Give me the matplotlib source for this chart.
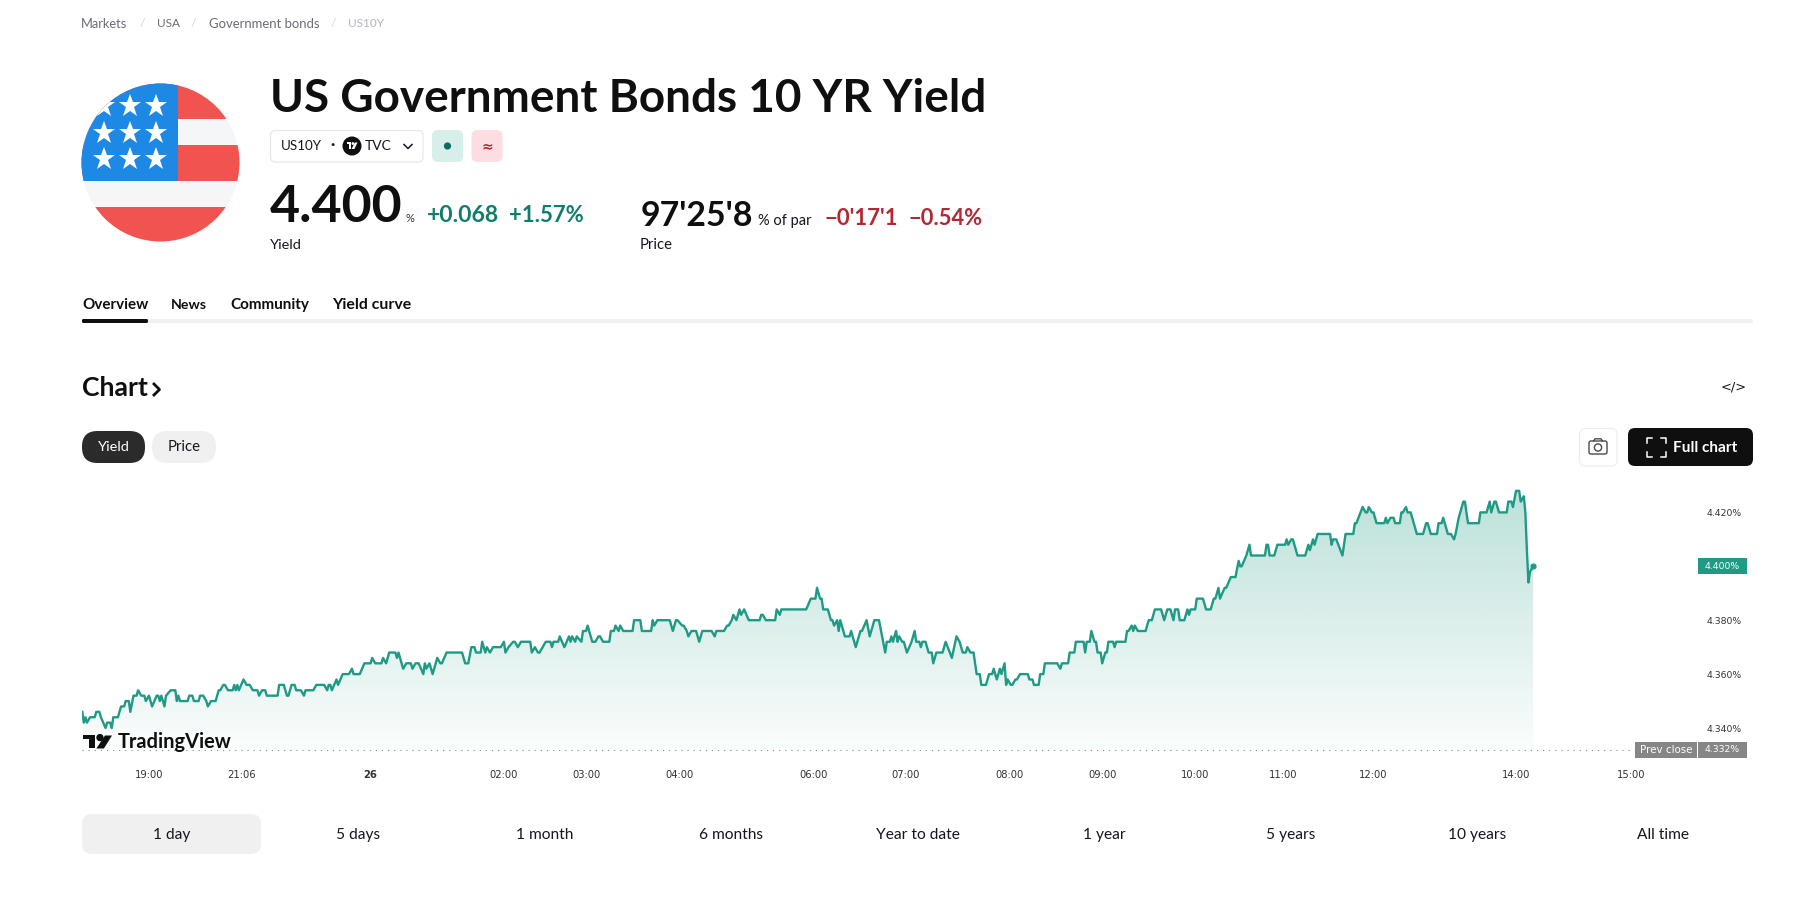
import matplotlib
matplotlib.use("Agg")
import matplotlib.pyplot as plt
import numpy as np
from matplotlib.patches import FancyBboxPatch, Circle, Rectangle, Polygon

# ---------- data ----------
bar_index = [
    0,1,2,3,5,8,9,11,12,15,16,18,
    19,20,23,25,27,28,30,31,33,35,36,38,
    40,41,43,45,48,49,50,51,53,54,57,60,
    61,62,63,68,69,71,72,75,76,78,80,81,
    83,86,88,89,91,92,94,97,98,99,100,101,
    104,106,108,110,113,114,116,118,119,126,127,130,
    132,133,135,137,138,141,143,144,149,151,156,158,
    159,160,161,164,165,168,172,174,175,179,182,186,
    187,189,193,194,196,198,202,203,204,207,209,212,
    213,215,217,220,221,222,224,226,229,231,232,235,
    245,247,249,251,253,254,257,258,260,261,263,265,
    270,272,273,275,278,279,281,283,289,290,292,294,
    295,297,299,302,303,304,307,308,311,314,315,316,
    318,319,322,323,325,326,329,331,333,334,336,340,
    341,343,344,346,347,349,355,356,360,361,367,368,
    369,371,379,381,383,384,387,388,390,391,393,396,
    398,400,406,408,409,414,416,417,419,420,422,424,
    425,427,430,437,438,439,441,447,448,450,451,467,
    470,473,474,476,477,478,481,483,484,485,487,488,
    489,492,495,496,499,502,503,506,508,511,514,518,
    519,521,522,523,525,526,527,529,530,532,535,537,
    538,540,541,542,544,546,548,549,551,555,557,561,
    564,566,568,570,571,573,575,577,579,580,583,585,
    587,588,590,592,593,595,596,597,599,600,602,603,
    605,610,611,613,614,617,618,620,621,629,631,632,
    636,637,640,641,646,647,648,650,651,653,654,655,
    657,658,660,661,662,665,666,667,673,674,675,677,
    678,679,681,686,688,690,692,696,698,700,702,704,
    705,707,708,711,713,714,715,718,719,723,725,728,
    730,731,733,734,737,738,741,744,746,747,748,751,
    753,754,763,764,765,766,769,771,776,777,778,780,
    781,784,789,791,792,794,795,797,805,806,807,809,
    813,815,820,821,822,826,828,829,830,832,833,835,
    840,841,842,844,846,847,850,851,852,854,855,857,
    861,865,867,868,870,874,875,877,878,881,883,885,
    886,888,891,892,894,901,902,906,908,909,911,912,
    914,919,920,922,923,925,927,928,930,931,932,933,
    934,936,
]
yield_pct = [
    4.346,4.342,4.344,4.342,4.344,4.344,4.346,4.346,4.344,4.340,4.342,4.342,
    4.340,4.344,4.344,4.348,4.348,4.350,4.350,4.346,4.352,4.352,4.354,4.352,
    4.352,4.350,4.352,4.348,4.352,4.352,4.350,4.352,4.348,4.352,4.354,4.354,
    4.350,4.352,4.350,4.350,4.352,4.352,4.350,4.350,4.352,4.352,4.350,4.348,
    4.350,4.350,4.354,4.354,4.356,4.356,4.354,4.354,4.356,4.354,4.356,4.354,
    4.358,4.356,4.356,4.354,4.354,4.352,4.354,4.354,4.352,4.352,4.356,4.356,
    4.352,4.352,4.356,4.356,4.354,4.354,4.352,4.354,4.354,4.356,4.356,4.354,
    4.356,4.356,4.354,4.358,4.356,4.360,4.360,4.362,4.360,4.360,4.364,4.364,
    4.366,4.364,4.364,4.366,4.364,4.368,4.368,4.366,4.368,4.362,4.364,4.364,
    4.362,4.364,4.364,4.360,4.364,4.362,4.364,4.360,4.366,4.364,4.364,4.368,
    4.368,4.364,4.364,4.370,4.370,4.368,4.368,4.372,4.368,4.370,4.368,4.370,
    4.370,4.372,4.368,4.370,4.372,4.372,4.370,4.372,4.372,4.368,4.370,4.368,
    4.368,4.370,4.372,4.372,4.370,4.372,4.372,4.374,4.370,4.374,4.372,4.374,
    4.372,4.374,4.372,4.376,4.376,4.378,4.372,4.372,4.374,4.374,4.372,4.372,
    4.376,4.376,4.378,4.376,4.378,4.376,4.376,4.380,4.380,4.376,4.376,4.380,
    4.378,4.380,4.380,4.376,4.380,4.380,4.378,4.378,4.376,4.374,4.376,4.376,
    4.372,4.376,4.376,4.374,4.376,4.376,4.378,4.378,4.380,4.382,4.380,4.384,
    4.382,4.384,4.380,4.380,4.382,4.382,4.380,4.380,4.384,4.382,4.384,4.384,
    4.388,4.388,4.392,4.388,4.388,4.384,4.384,4.380,4.380,4.378,4.380,4.376,
    4.380,4.374,4.374,4.376,4.370,4.376,4.376,4.380,4.374,4.380,4.380,4.368,
    4.372,4.372,4.374,4.372,4.376,4.372,4.374,4.372,4.372,4.368,4.372,4.376,
    4.372,4.372,4.370,4.372,4.372,4.368,4.368,4.364,4.368,4.368,4.372,4.366,
    4.374,4.372,4.368,4.368,4.370,4.368,4.368,4.360,4.360,4.356,4.356,4.360,
    4.360,4.362,4.358,4.362,4.360,4.364,4.356,4.358,4.356,4.356,4.358,4.358,
    4.360,4.360,4.358,4.358,4.356,4.356,4.360,4.360,4.364,4.364,4.362,4.364,
    4.364,4.368,4.368,4.372,4.372,4.368,4.372,4.372,4.376,4.372,4.372,4.368,
    4.368,4.364,4.368,4.368,4.372,4.372,4.370,4.372,4.372,4.376,4.376,4.378,
    4.376,4.378,4.376,4.376,4.380,4.380,4.384,4.384,4.380,4.384,4.384,4.380,
    4.384,4.384,4.380,4.380,4.384,4.382,4.384,4.384,4.388,4.388,4.384,4.384,
    4.388,4.388,4.392,4.388,4.392,4.392,4.396,4.396,4.402,4.400,4.400,4.404,
    4.408,4.404,4.404,4.408,4.408,4.404,4.404,4.408,4.408,4.410,4.408,4.410,
    4.410,4.404,4.404,4.408,4.406,4.410,4.408,4.412,4.412,4.408,4.410,4.410,
    4.404,4.412,4.412,4.416,4.416,4.422,4.420,4.420,4.422,4.420,4.420,4.416,
    4.416,4.418,4.416,4.418,4.418,4.416,4.416,4.420,4.420,4.422,4.420,4.420,
    4.412,4.412,4.416,4.416,4.412,4.412,4.416,4.416,4.418,4.412,4.412,4.410,
    4.412,4.418,4.424,4.424,4.416,4.416,4.420,4.420,4.424,4.420,4.424,4.424,
    4.420,4.420,4.424,4.424,4.422,4.428,4.428,4.424,4.426,4.420,4.406,4.394,
    4.398,4.400,
]
prev_close = 4.332
last_yield = 4.400
x_tick_bars = [43, 103, 186, 272, 325, 385, 472, 531, 598, 658, 718, 775, 833, 925, 999]
x_tick_labels = ["19:00", "21:06", "26", "02:00", "03:00", "04:00", "06:00", "07:00",
                 "08:00", "09:00", "10:00", "11:00", "12:00", "14:00", "15:00"]
y_ticks = [4.34, 4.36, 4.38, 4.42]
range_labels = ["1 day", "5 days", "1 month", "6 months", "Year to date",
                "1 year", "5 years", "10 years", "All time"]
breadcrumbs = ["Markets", "USA", "Government bonds", "US10Y"]
tabs = ["Overview", "News", "Community", "Yield curve"]

# ---------- figure ----------
W, H = 1820, 913
UI = "Lato"
LINE = "#1f9a85"
INK = "#131722"
fig = plt.figure(figsize=(W / 100, H / 100), dpi=100, facecolor="white")

# chart axes
L, R, T_, B = 82.3, 1700, 480, 760
ax = fig.add_axes([L / W, 1 - B / H, (R - L) / W, (B - T_) / H], zorder=1)
ax.patch.set_alpha(0)
xmax = (R - L) / 1.55
poly = ax.fill_between(bar_index, yield_pct, prev_close, color="none", lw=0)
rgba = np.zeros((256, 2, 4))
rgba[..., 0] = 0x1f / 255
rgba[..., 1] = 0x9a / 255
rgba[..., 2] = 0x85 / 255
rgba[..., 3] = np.linspace(0.30, 0.02, 256)[:, None]
im = ax.imshow(rgba, extent=[0, xmax, prev_close, max(yield_pct)], origin="upper",
               aspect="auto", interpolation="bilinear", zorder=1)
im.set_clip_path(poly.get_paths()[0], ax.transData)
ax.plot([0, 1002], [prev_close, prev_close], color="#8a8a8a", lw=0.8,
        dashes=(1, 4.5), zorder=2)
ax.plot(bar_index, yield_pct, color=LINE, lw=1.7, solid_joinstyle="round", zorder=3)
ax.plot(bar_index[-1], last_yield, "o", color=LINE, ms=4.5, mew=0, zorder=4)
ax.set_xlim(0, xmax)
ax.set_ylim(4.32813, 4.43202)
for s in ax.spines.values():
    s.set_visible(False)
ax.set_xticks(x_tick_bars, x_tick_labels)
ax.yaxis.tick_right()
ax.set_yticks(y_ticks, [f"{v:.3f}%" for v in y_ticks])
ax.tick_params(length=0, labelsize=6.7, labelcolor="#333333")
ax.tick_params(axis="x", labelsize=7.2, pad=7.5)
ax.tick_params(axis="y", pad=5)
for lab in ax.get_xticklabels():
    if lab.get_text() == "26":
        lab.set_fontweight("bold")
btrans = ax.get_yaxis_transform()
h_badge = 0.00295
for (x0, x1, val, label, col, fs) in [
    (0.99877, 1.0291, last_yield, f"{last_yield:.3f}%", LINE, 6.7),
    (0.99877, 1.0291, prev_close, f"{prev_close:.3f}%", "#868686", 6.7),
    (0.95980, 0.99810, prev_close, "Prev close", "#868686", 7.4),
]:
    ax.add_patch(Rectangle((x0, val - h_badge), x1 - x0, 2 * h_badge, transform=btrans,
                           fc=col, ec="none", clip_on=False, zorder=5))
    ax.text((x0 + x1) / 2, val, label, transform=btrans, color="white", fontsize=fs,
            va="center", ha="center", clip_on=False, zorder=6)

# page overlay in pixel coordinates
pg = fig.add_axes([0, 0, 1, 1], zorder=2)
pg.set_xlim(0, W)
pg.set_ylim(H, 0)
pg.axis("off")
pg.patch.set_alpha(0)
renderer = fig.canvas.get_renderer()


def txt(x, y, s, px=14, color=INK, weight="normal", ha="left", va="center", w=None, family=UI):
    t = pg.text(x, y, s, fontsize=px * 0.72, color=color, fontweight=weight, ha=ha, va=va, family=family)
    if w is not None:
        cur = t.get_window_extent(renderer).width
        t.set_fontsize(t.get_fontsize() * w / cur)
    return t


def rrect(x0, y0, x1, y1, r, fc, ec="none", lw=0):
    p = FancyBboxPatch((x0, y0), x1 - x0, y1 - y0, boxstyle=f"round,pad=0,rounding_size={r}",
                       fc=fc, ec=ec, lw=lw)
    pg.add_patch(p)
    return p


def tv_logo(x, y, w, h, c):
    U = lambda a, b: (x + a * w, y + b * h)
    pg.add_patch(Polygon([U(0, 0), U(.43, 0), U(.43, 1), U(.2, 1), U(.2, .28), U(0, .28)], fc=c, ec="none"))
    pg.add_patch(Circle(U(.585, .16), .14 * w * 0.9, fc=c, ec="none"))
    pg.add_patch(Polygon([U(.76, 0), U(1, 0), U(.72, 1), U(.46, 1)], fc=c, ec="none"))


# breadcrumbs
for (x, w, s, c) in zip([81, 157, 209, 348], [47, 23, 111, 36], breadcrumbs,
                        ["#6a6d78", "#6a6d78", "#6a6d78", "#b2b5be"]):
    txt(x, 23.5, s, 13, c, w=w)
for x in (142, 193, 333):
    txt(x, 23.5, "/", 12, "#d1d4dc", ha="center")

# flag
clip = Circle((160.5, 162.5), 79, transform=pg.transData)
parts = [Rectangle((80, 80), 165, 39, fc="#f05350", ec="none"),
         Rectangle((80, 119), 165, 26, fc="#f5f6f8", ec="none"),
         Rectangle((80, 145), 165, 36, fc="#f05350", ec="none"),
         Rectangle((80, 181), 165, 26, fc="#f5f6f8", ec="none"),
         Rectangle((80, 207), 165, 38, fc="#f05350", ec="none"),
         Rectangle((80, 80), 97.5, 101, fc="#1e88e5", ec="none")]
for p in parts:
    pg.add_patch(p)
    p.set_clip_path(clip)
for yy in (106, 133, 159):
    for xx in (104, 130, 156):
        m, = pg.plot([xx], [yy], marker="*", ms=17, color="white", mew=0, ls="none")
        m.set_clip_path(clip)

# title
txt(270, 99.5, "US Government Bonds 10 YR Yield", 46, "#0f0f0f", "bold", w=715)

# chips
rrect(270.5, 130.5, 423, 162, 5, "white", "#e6e6e6", 0.8)
txt(281, 146.5, "US10Y", 14.5, INK, w=41)
txt(333, 145.5, "·", 16, INK, "bold", ha="center")
pg.add_patch(Circle((352, 146), 9.5, fc="#0f0f0f", ec="none"))
tv_logo(346.5, 142.5, 11, 6.5, "white")
txt(365, 146.5, "TVC", 14.5, INK, w=27)
pg.plot([404, 408, 412], [144.5, 148.5, 144.5], color=INK, lw=1.1)
rrect(432, 130, 463, 162, 6, "#d6efea")
pg.add_patch(Circle((447.5, 146), 3.6, fc="#0f6b5c", ec="none"))
rrect(471.5, 130, 502.5, 162, 6, "#fbdde2")
txt(487, 146, "≈", 14, "#b22833", "bold", ha="center", family="DejaVu Sans")

# quote row
GREEN, RED = "#0f7d6b", "#b22833"
txt(270, 222.5, "4.400", 48, "#0f0f0f", "bold", va="baseline", w=133)
txt(405, 222, "%", 11, "#333333", va="baseline", w=9)
txt(427, 222, "+0.068", 22, GREEN, "bold", va="baseline", w=72)
txt(509, 222, "+1.57%", 22, GREEN, "bold", va="baseline", w=75)
txt(270, 245, "Yield", 15, INK, w=32)
txt(641, 225.5, "97'25'8", 33, "#0f0f0f", "bold", va="baseline", w=113)
txt(758, 225, "% of par", 14, INK, va="baseline", w=54)
txt(824, 225, "−0'17'1", 22, RED, "bold", va="baseline", w=74)
txt(909, 225, "−0.54%", 22, RED, "bold", va="baseline", w=74)
txt(640, 245, "Price", 15, INK, w=33)

# tabs
for x, w, s in zip([82, 171, 230, 332], [66, 36, 79, 79], tabs):
    txt(x, 305, s, 15, "#0f0f0f", "bold", w=w)
pg.add_patch(Rectangle((82, 319), 1671, 3.6, fc="#f0f0f0", ec="none"))
rrect(82, 319, 148, 323, 1.5, "#0f0f0f")

# chart header
txt(82, 388, "Chart", 27, "#0f0f0f", "bold", w=66)
pg.plot([154, 159.5, 154], [384, 389.5, 395], color="#0f0f0f", lw=2.0)
txt(1734, 387, "</>", 13, "#131722", ha="center", family="DejaVu Sans")
rrect(82, 431, 145, 463, 15.5, "#2b2b2b")
txt(113.5, 447, "Yield", 15, "white", ha="center", w=32)
rrect(152, 431, 216, 463, 15.5, "#f0f0f0")
txt(184, 447, "Price", 15, INK, ha="center", w=33)

# camera
rrect(1579.5, 428.5, 1617, 466, 6, "white", "#ececec", 0.8)
rrect(1589, 441, 1607, 454, 2, "none", "#4a4a4a", 1.0)
pg.add_patch(Circle((1598, 447.5), 3.6, fc="none", ec="#4a4a4a", lw=1.0))
pg.plot([1593.5, 1595, 1601, 1602.5], [441, 438.8, 438.8, 441], color="#4a4a4a", lw=1.0)

# full chart
rrect(1628, 428, 1753, 466, 7, "#0f0f0f")
for (cx, cy, sx, sy) in [(1647, 438, 1, 1), (1666, 438, -1, 1), (1647, 457, 1, -1), (1666, 457, -1, -1)]:
    pg.plot([cx, cx, cx + sx * 5], [cy + sy * 5, cy, cy], color="white", lw=1.1)
txt(1673, 447.5, "Full chart", 16, "white", "bold", w=64)

# TradingView mark
tv_logo(83, 735.5, 29, 13, "#0f0f0f")
txt(118, 742.5, "TradingView", 20, "#0f0f0f", "bold", w=114)

# range selector
rrect(82, 814, 261, 854, 10, "#f0f0f0")
for i, s in enumerate(range_labels):
    txt(172 + 186.4 * i, 835, s, 15.5, INK, ha="center")

fig.savefig("out.png", dpi=100, facecolor="white")
